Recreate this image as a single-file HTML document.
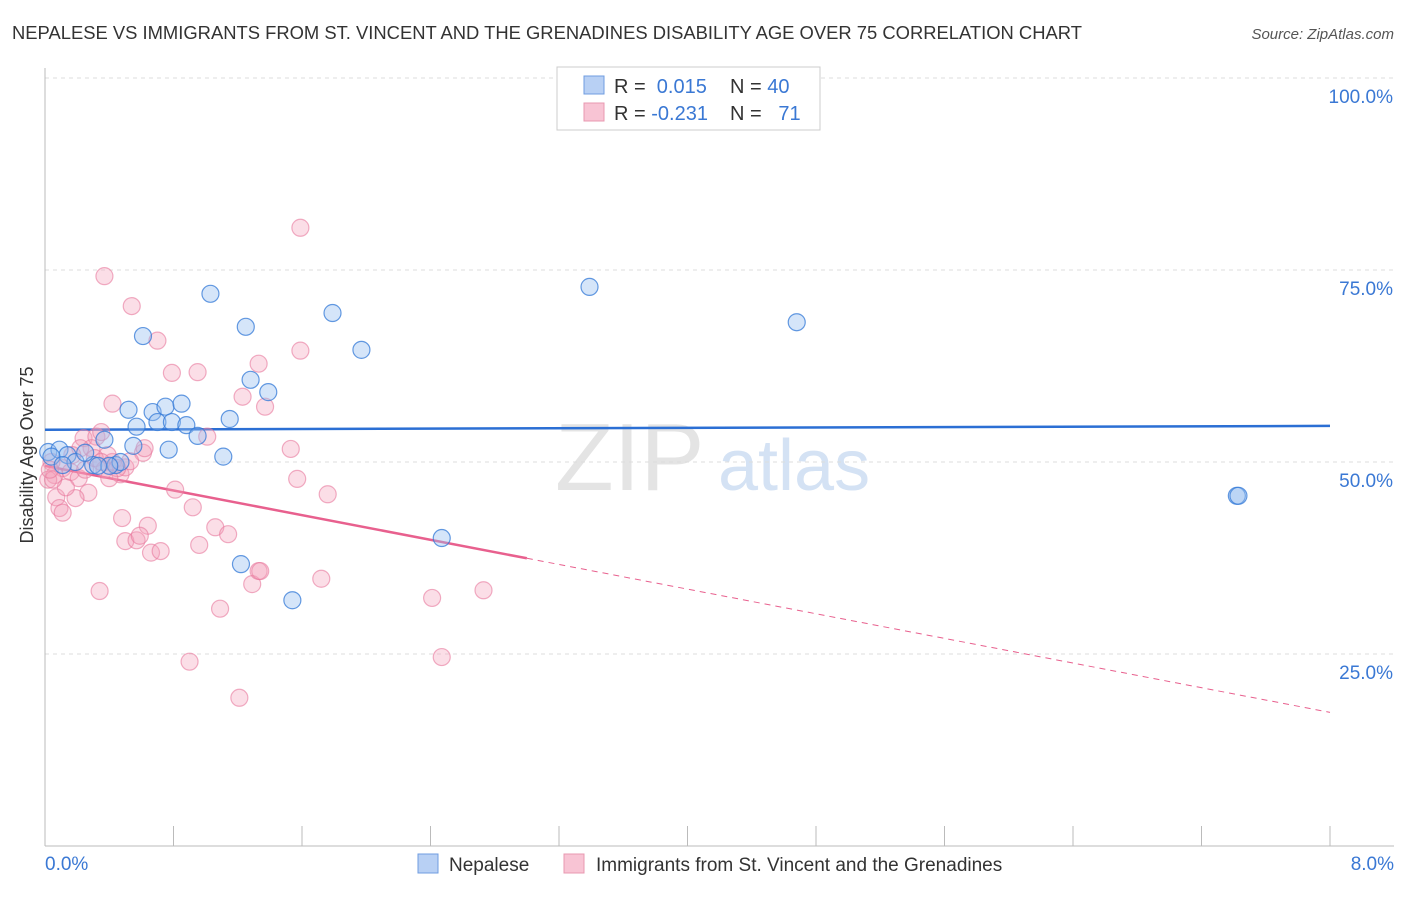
<!DOCTYPE html>
<html><head><meta charset="utf-8"><style>
body{margin:0;background:#fff;font-family:"Liberation Sans",sans-serif;}
svg text{font-family:"Liberation Sans",sans-serif;}
</style></head><body>
<svg id="chart" width="1406" height="892">
<text x="12" y="39" font-size="18.4" fill="#333">NEPALESE VS IMMIGRANTS FROM ST. VINCENT AND THE GRENADINES DISABILITY AGE OVER 75 CORRELATION CHART</text>
<text x="1394" y="39" font-size="15" fill="#555" font-style="italic" text-anchor="end">Source: ZipAtlas.com</text>
<g>
<text x="555" y="490" font-size="96" fill="#e4e4e4" font-family="Liberation Serif">ZIP</text>
<text x="718" y="490" font-size="72" fill="#d4e2f4">atlas</text>
</g>
<g id="grid"></g>
<line x1="45" y1="68" x2="45" y2="846" stroke="#bbb"/>
<line x1="45" y1="846" x2="1394" y2="846" stroke="#bbb"/>
<text x="33" y="455" font-size="18" fill="#333" text-anchor="middle" transform="rotate(-90 33 455)">Disability Age Over 75</text>
<text x="45" y="870" font-size="19" fill="#3a78d4">0.0%</text>
<text x="1394" y="870" font-size="19" fill="#3a78d4" text-anchor="end">8.0%</text>
<g id="lines"></g>
<g id="points"></g>
<g>
<rect x="557" y="67" width="263" height="63" fill="#fff" stroke="#ccc"/>
<rect x="584" y="76" width="20" height="18" fill="#b8d0f4" stroke="#6f9ce0"/>
<rect x="584" y="103" width="20" height="18" fill="#f8c4d4" stroke="#e898b0"/>
<text x="614" y="93" font-size="20" fill="#333">R = <tspan fill="#3a78d4">&#160;0.015</tspan><tspan x="730">N = </tspan><tspan fill="#3a78d4">40</tspan></text>
<text x="614" y="120" font-size="20" fill="#333">R = <tspan fill="#3a78d4">-0.231</tspan><tspan x="730">N = </tspan><tspan fill="#3a78d4">&#160;&#160;71</tspan></text>
</g>
<g>
<rect x="418" y="854" width="20" height="19" fill="#b8d0f4" stroke="#6f9ce0"/>
<text x="449" y="871" font-size="19" fill="#333">Nepalese</text>
<rect x="564" y="854" width="20" height="19" fill="#f8c4d4" stroke="#e898b0"/>
<text x="596" y="871" font-size="19" fill="#333">Immigrants from St. Vincent and the Grenadines</text>
</g>
</svg>
<script>
const yTicks=[25,50,75,100];
const yTickLabels=["25.0%","50.0%","75.0%","100.0%"];
const xTicks=[0.8,1.6,2.4,3.2,4.0,4.8,5.6,6.4,7.2,8.0];
const nepX=[0.02,0.09,0.14,0.19,0.30,0.37,0.44,0.47,0.52,0.55,0.57,0.67,0.70,0.75,0.77,0.79,0.85,0.88,0.95,1.03,1.11,1.15,1.25,1.28,1.39,1.22,1.54,1.79,1.97,2.47,3.39,4.68,7.42,7.43,0.04,0.25,0.40,0.11,0.33,0.61];
const nepY=[51.3,51.6,50.9,50.0,49.6,52.9,49.6,50.0,56.8,52.1,54.6,56.5,55.2,57.2,51.6,55.2,57.6,54.8,53.4,71.9,50.7,55.6,67.6,60.7,59.1,36.7,32.0,69.4,64.6,40.1,72.8,68.2,45.6,45.6,50.7,51.2,49.5,49.6,49.5,66.4];
const immX=[0.37,1.59,0.54,0.70,0.79,0.95,1.33,1.59,0.42,1.37,1.23,0.24,0.32,0.35,0.42,0.61,0.47,0.50,1.01,1.53,1.57,1.76,0.81,0.92,0.11,0.06,0.16,0.21,0.27,0.19,0.07,0.09,0.11,0.25,0.13,0.48,0.64,0.50,0.57,0.59,0.66,0.72,0.96,1.06,1.14,1.29,1.33,1.34,1.72,0.34,1.09,2.41,2.73,0.90,2.47,1.21,0.04,0.02,0.05,0.29,0.39,0.45,0.22,0.31,0.37,0.17,0.03,0.53,0.62,0.35,0.40];
const immY=[74.2,80.5,70.3,65.8,61.6,61.7,62.8,64.5,57.6,57.2,58.5,53.1,53.3,53.9,50.0,51.2,48.4,49.3,53.3,51.7,47.8,45.8,46.4,44.1,49.2,48.3,48.7,47.9,46.0,45.3,45.4,44.0,43.4,49.0,46.7,42.7,41.7,39.7,39.8,40.4,38.2,38.4,39.2,41.5,40.6,34.1,35.8,35.8,34.8,33.2,30.9,32.3,33.3,24.0,24.6,19.3,50.0,47.7,47.7,51.8,50.9,49.2,51.8,50.5,49.0,50.9,49.0,50.1,51.8,50.0,47.9];
const nepTrend=[54.2,54.7];
const immTrend=[49.5,17.4];
const immSolidEnd=3.0;
const NS="http://www.w3.org/2000/svg";
const X=v=>45+v*(1285/8), Y=v=>846-v*7.68;
function mk(t,a,p){const e=document.createElementNS(NS,t);for(const k in a)e.setAttribute(k,a[k]);p.appendChild(e);return e;}
const grid=document.getElementById('grid');
yTicks.forEach((t,i)=>{
 const l=mk('line',{x1:45,x2:1394,y1:Y(t),y2:Y(t),stroke:'#ddd','stroke-dasharray':'4,4'},grid);
 
 
 const tx=mk('text',{x:1393,y:Y(t)+25,'font-size':19,fill:'#3a78d4','text-anchor':'end'},grid);
 tx.textContent=yTickLabels[i];
 
 
});
xTicks.forEach(t=>{
 const l=mk('line',{x1:X(t),x2:X(t),y1:826,y2:846,stroke:'#bbb'},grid);
 
 
});
const lines=document.getElementById('lines');
const nl=mk('line',{x1:X(0),y1:Y(nepTrend[0]),x2:X(8),y2:Y(nepTrend[1]),stroke:'#2b6fd4','stroke-width':2.5},lines);


const iy=x=>immTrend[0]+(immTrend[1]-immTrend[0])*x/8;
const il=mk('line',{x1:X(0),y1:Y(iy(0)),x2:X(immSolidEnd),y2:Y(iy(immSolidEnd)),stroke:'#e8608e','stroke-width':2.5},lines);


const id=mk('line',{x1:X(immSolidEnd),y1:Y(iy(immSolidEnd)),x2:X(8),y2:Y(iy(8)),stroke:'#e8608e','stroke-width':1,'stroke-dasharray':'6,5'},lines);


const pts=document.getElementById('points');
immX.forEach((x,i)=>{
 const c=mk('circle',{cx:X(x),cy:Y(immY[i]),r:8.5,fill:'rgba(244,160,186,0.35)',stroke:'rgba(232,120,156,0.6)','stroke-width':1.2},pts);
 
 
});
nepX.forEach((x,i)=>{
 const c=mk('circle',{cx:X(x),cy:Y(nepY[i]),r:8.5,fill:'rgba(150,190,240,0.4)',stroke:'rgba(50,120,215,0.75)','stroke-width':1.2},pts);
 
 
});
</script>
</body></html>
